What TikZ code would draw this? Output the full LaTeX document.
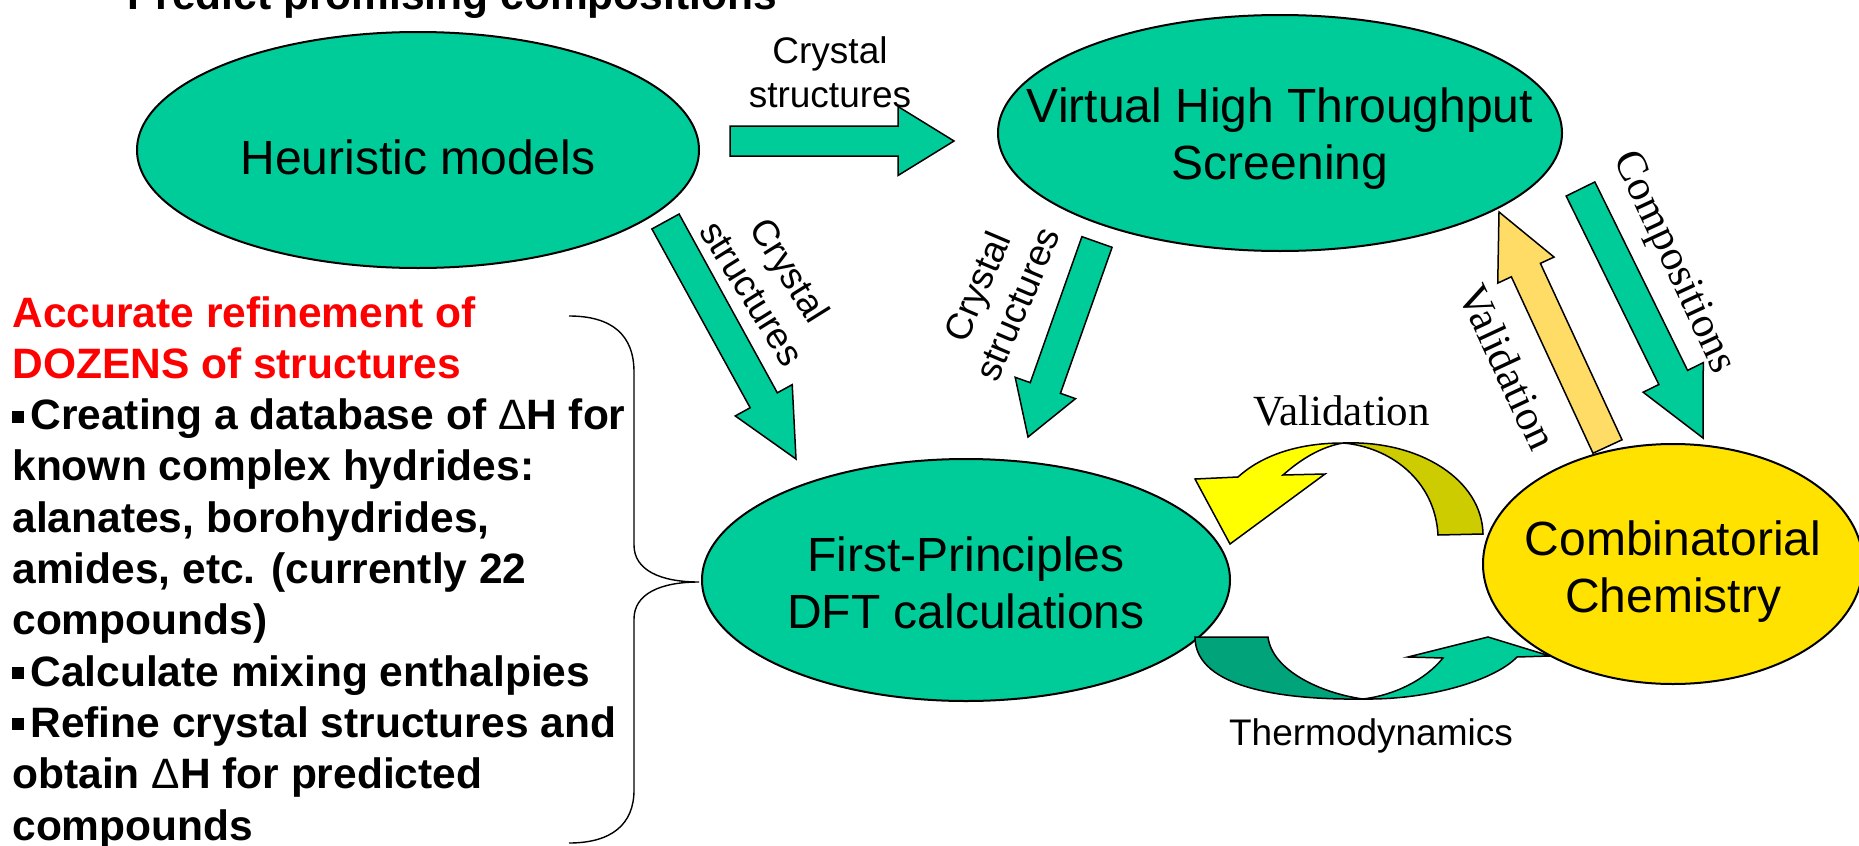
\documentclass[tikz,border=0pt]{standalone}
\usepackage{fontspec}
\setmainfont{Liberation Sans}
\newfontfamily\tms{Liberation Serif}
\usetikzlibrary{shapes.geometric,calc}

\definecolor{tealfill}{RGB}{0,204,153}
\definecolor{goldfill}{RGB}{255,226,0}
\definecolor{lemonfill}{RGB}{255,255,0}
\definecolor{olivefill}{RGB}{204,204,0}
\definecolor{pinefill}{RGB}{0,163,122}
\definecolor{sandfill}{RGB}{255,220,102}
\definecolor{alertred}{RGB}{255,0,0}

% block arrow: style, name, tail, tip, shaft half width, head half width, head length
\newcommand\blockarrow[7]{%
  \coordinate (#2-base) at ($(#4)!#7!(#3)$);
  \draw[#1] ($(#3)!#5!90:(#4)$) -- ($(#2-base)!#5!-90:(#3)$) -- ($(#2-base)!#6!-90:(#3)$)
    -- (#4) -- ($(#2-base)!#6!90:(#3)$) -- ($(#2-base)!#5!90:(#3)$) -- ($(#3)!#5!-90:(#4)$) -- cycle;
}

\tikzset{
  oval/.style={ellipse, draw=black, line width=1pt, inner sep=0pt},
  ovaltext/.style={font=\fontsize{24pt}{28.5pt}\selectfont, align=center},
  blockshape/.style={draw=black, line width=0.75pt, line join=miter},
  lbl/.style={font=\fontsize{18.5pt}{22pt}\selectfont, align=center, inner sep=0pt},
  seriflbl/.style={font=\tms\fontsize{21.5pt}{25pt}\selectfont, inner sep=0pt},
  body/.style={font=\bfseries\fontsize{21.25pt}{25.65pt}\selectfont, anchor=base west, inner sep=0pt},
}
\newcommand\sqbullet{\rule[3.5pt]{6pt}{6pt}\hspace{3pt}}
\newcommand\dH{{\mdseries Δ}H}

\begin{document}
\begin{tikzpicture}[x=0.5pt, y=-0.5pt]
\useasboundingbox (0,0) rectangle (1859,846);
\clip (0,0) rectangle (1859,846);

% heading, partly above the page
\node[body] (title) at (127,10) {Predict promising compositions};

% process ellipses
\node[oval, fill=tealfill, minimum width=281pt, minimum height=118pt,
      label={[ovaltext, yshift=-3.5pt]center:Heuristic models}] (heur) at (418,150) {};
\node[oval, fill=tealfill, minimum width=282pt, minimum height=118pt,
      label={[ovaltext, yshift=-3pt]center:Virtual High Throughput\\Screening}] (vhts) at (1280,133) {};
\node[oval, fill=tealfill, minimum width=264pt, minimum height=121pt,
      label={[ovaltext, yshift=-1.5pt]center:First-Principles\\DFT calculations}] (dft) at (966,580) {};

% block arrows between the ellipses
\coordinate (hv-t) at (730,141);   \coordinate (hv-p) at (954,141);
\coordinate (hd-t) at (665.5,221.5); \coordinate (hd-p) at (796,459);
\coordinate (vd-t) at (1097,242);  \coordinate (vd-p) at (1028,437);
\coordinate (cv-t) at (1607.5,446.5); \coordinate (cv-p) at (1499,212);
\coordinate (vc-t) at (1580.5,189); \coordinate (vc-p) at (1703,438);

\blockarrow{blockshape, fill=tealfill}{hv}{hv-t}{hv-p}{7.5pt}{17.25pt}{28pt}
\blockarrow{blockshape, fill=tealfill}{hd}{hd-t}{hd-p}{7.75pt}{16.25pt}{33.5pt}
\blockarrow{blockshape, fill=tealfill}{vd}{vd-t}{vd-p}{8pt}{16pt}{26pt}
\blockarrow{blockshape, fill=sandfill}{cv}{cv-t}{cv-p}{8pt}{15.5pt}{32pt}
\blockarrow{blockshape, fill=tealfill}{vc}{vc-t}{vc-p}{8pt}{16.75pt}{33.75pt}

% arrow captions
\node[lbl] (cap-hv) at (830,72) {Crystal\\structures};
\node[lbl, rotate=-58] (cap-hd) at (771.5,281.5) {Crystal\\structures};
\node[lbl, rotate=67] (cap-vd) at (997,295) {Crystal\\structures};
\node[seriflbl, rotate=-65] (cap-cv) at (1508,367) {Validation};
\node[seriflbl, rotate=-65] (cap-vc) at (1673,263) {Compositions};

% validation loop above, thermodynamics loop below
\draw[blockshape, fill=olivefill] (1343,443) .. controls (1420,440) and (1482,480) .. (1483,534)
  -- (1438,535) .. controls (1435,480) and (1390,447) .. (1343,443) -- cycle;
\draw[blockshape, fill=lemonfill] (1343,443) .. controls (1295,443) and (1260,457) .. (1238,477)
  -- (1195,479) -- (1230,544) -- (1325,474) -- (1283,475)
  .. controls (1300,460) and (1320,447) .. (1343,443) -- cycle;
\draw[blockshape, fill=pinefill] (1195,637) .. controls (1195,690) and (1290,700) .. (1363,699)
  .. controls (1320,693) and (1272,670) .. (1268,637) -- cycle;
\draw[blockshape, fill=tealfill] (1363,699) .. controls (1430,700) and (1495,680) .. (1517,657)
  -- (1550,656) -- (1488,637) -- (1408,657) -- (1443,658)
  .. controls (1425,680) and (1395,695) .. (1363,699) -- cycle;

\node[seriflbl, anchor=base] (loop-val) at (1341.5,425) {Validation};
\node[lbl, anchor=base] (loop-thermo) at (1371,745) {Thermodynamics};

\node[oval, fill=goldfill, minimum width=190pt, minimum height=120pt,
      label={[ovaltext, yshift=-4pt]center:Combinatorial\\Chemistry}] (comb) at (1673,564) {};

% task list on the left
\node[body, text=alertred] (t1) at (12,327) {Accurate refinement of};
\node[body, text=alertred] (t2) at (12,378.3) {DOZENS of structures};
\node[body] (t3) at (12,429.6) {\sqbullet Creating a database of \dH{} for};
\node[body] (t4) at (12,480.9) {known complex hydrides:};
\node[body] (t5) at (12,532.2) {alanates, borohydrides,};
\node[body] (t6) at (12,583.5) {amides, etc. (currently 22};
\node[body] (t7) at (12,634.8) {compounds)};
\node[body] (t8) at (12,686.1) {\sqbullet Calculate mixing enthalpies};
\node[body] (t9) at (12,737.4) {\sqbullet Refine crystal structures and};
\node[body] (t10) at (12,788.7) {obtain \dH{} for predicted};
\node[body] (t11) at (12,840) {compounds};

% brace gathering the list toward the DFT step
\coordinate (br-top) at (569,316);
\coordinate (br-mid) at (699,582);
\coordinate (br-bot) at (569,843);
\draw[line width=0.7pt] (br-top) .. controls (612,316) and (634,335) .. (634,372)
  -- (634,545) .. controls (634,570) and (660,582) .. (br-mid)
  .. controls (660,582) and (634,594) .. (634,619)
  -- (634,790) .. controls (634,824) and (612,843) .. (br-bot);
\end{tikzpicture}
\end{document}
